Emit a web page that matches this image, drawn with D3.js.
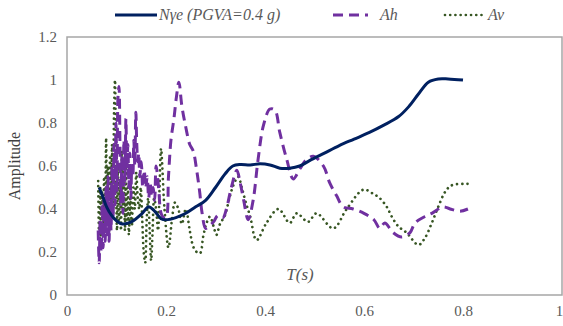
<!DOCTYPE html>
<html>
<head>
<meta charset="utf-8">
<script src="https://cdn.jsdelivr.net/npm/d3@7"></script>
<style>
  body { margin: 0; background: #fff; }
  svg text { font-family: "Liberation Serif", "DejaVu Serif", serif; }
</style>
</head>
<body>
<svg width="563" height="326"></svg>
<script>
// series: period T (s) and amplitude
let nyeT = [0.065, 0.072, 0.08, 0.09, 0.1, 0.112, 0.13, 0.15, 0.165, 0.175, 0.19, 0.2, 0.22, 0.24, 0.26, 0.28, 0.3, 0.32, 0.335, 0.35, 0.37, 0.39, 0.41, 0.43, 0.45, 0.47, 0.49, 0.52, 0.55, 0.58, 0.61, 0.64, 0.67, 0.69, 0.71, 0.73, 0.75, 0.77, 0.8];
let nyeA = [0.5, 0.46, 0.41, 0.37, 0.345, 0.33, 0.34, 0.375, 0.41, 0.395, 0.355, 0.35, 0.36, 0.38, 0.41, 0.44, 0.5, 0.565, 0.6, 0.607, 0.605, 0.61, 0.605, 0.59, 0.59, 0.6, 0.625, 0.66, 0.695, 0.725, 0.755, 0.79, 0.83, 0.875, 0.935, 0.99, 1.005, 1.005, 1.0];

let ahT = [0.063, 0.065, 0.067, 0.069, 0.071, 0.073, 0.075, 0.077, 0.079, 0.081, 0.083, 0.085, 0.087, 0.089, 0.091, 0.093, 0.095, 0.097, 0.099, 0.101, 0.103, 0.105, 0.107, 0.109, 0.111, 0.113, 0.115, 0.117, 0.119, 0.121, 0.123, 0.125, 0.127, 0.129, 0.131, 0.133, 0.135, 0.137, 0.139, 0.141, 0.143, 0.145, 0.147, 0.15, 0.153, 0.156, 0.159, 0.162, 0.165, 0.168, 0.171, 0.174, 0.177, 0.18, 0.185, 0.19, 0.195, 0.2,
  0.205, 0.21, 0.216, 0.221, 0.226, 0.232, 0.24, 0.248, 0.255, 0.262, 0.268, 0.273, 0.28, 0.287, 0.296, 0.305, 0.315, 0.322, 0.332, 0.343, 0.35, 0.357, 0.366, 0.376, 0.386, 0.397, 0.41, 0.42, 0.43, 0.444, 0.457, 0.47, 0.484, 0.498, 0.518, 0.531, 0.545, 0.558, 0.578, 0.6, 0.62, 0.632, 0.642, 0.659, 0.676, 0.693, 0.703, 0.723, 0.737, 0.76, 0.774, 0.794, 0.81];
let ahA = [0.3, 0.15, 0.35, 0.2, 0.42, 0.22, 0.45, 0.25, 0.5, 0.28, 0.55, 0.25, 0.48, 0.3, 0.6, 0.36, 0.7, 0.42, 0.8, 0.48, 0.92, 0.97, 0.7, 0.42, 0.65, 0.38, 0.72, 0.52, 0.82, 0.58, 0.7, 0.5, 0.66, 0.45, 0.6, 0.55, 0.72, 0.6, 0.85, 0.7, 0.62, 0.66, 0.55, 0.62, 0.5, 0.58, 0.5, 0.55, 0.45, 0.52, 0.46, 0.5, 0.44, 0.6, 0.5, 0.38, 0.36, 0.36,
  0.55, 0.72, 0.82, 0.92, 0.99, 0.88, 0.78, 0.7, 0.67, 0.58, 0.48, 0.38, 0.31, 0.32, 0.34, 0.37, 0.36, 0.4, 0.5, 0.58, 0.52, 0.44, 0.35, 0.44, 0.63, 0.79, 0.865, 0.86, 0.755, 0.63, 0.54, 0.585, 0.63, 0.645, 0.6, 0.52, 0.46, 0.41, 0.4, 0.38, 0.35, 0.31, 0.335, 0.29, 0.27, 0.29, 0.335, 0.365, 0.38, 0.41, 0.4, 0.39, 0.4];

let avT = [0.063, 0.065, 0.067, 0.069, 0.071, 0.073, 0.075, 0.077, 0.079, 0.081, 0.083, 0.085, 0.087, 0.089, 0.091, 0.093, 0.095, 0.097, 0.099, 0.101, 0.103, 0.105, 0.107, 0.109, 0.111, 0.113, 0.115, 0.117, 0.119, 0.121, 0.123, 0.125, 0.128, 0.131, 0.134, 0.137, 0.14, 0.143, 0.146, 0.149, 0.152, 0.155, 0.158, 0.161, 0.164, 0.167, 0.17, 0.173, 0.176, 0.18, 0.184, 0.187, 0.19,
  0.197, 0.205, 0.212, 0.218, 0.225, 0.232, 0.24, 0.248, 0.255, 0.262, 0.269, 0.275, 0.282, 0.289, 0.296, 0.302, 0.309, 0.319, 0.328, 0.336, 0.346, 0.353, 0.36, 0.37, 0.383, 0.403, 0.427, 0.45, 0.464, 0.487, 0.504, 0.538, 0.565, 0.599, 0.619, 0.632, 0.646, 0.656, 0.669, 0.686, 0.71, 0.723, 0.737, 0.75, 0.764, 0.777, 0.81];
let avA = [0.53, 0.25, 0.5, 0.22, 0.48, 0.28, 0.55, 0.3, 0.73, 0.35, 0.6, 0.3, 0.65, 0.4, 0.7, 0.35, 0.85, 1.0, 0.55, 0.3, 0.6, 0.35, 0.5, 0.3, 0.67, 0.4, 0.62, 0.3, 0.6, 0.35, 0.5, 0.28, 0.45, 0.32, 0.5, 0.4, 0.57, 0.45, 0.4, 0.5, 0.35, 0.2, 0.15, 0.35, 0.45, 0.3, 0.16, 0.3, 0.45, 0.4, 0.3, 0.5, 0.68,
  0.4, 0.22, 0.35, 0.43, 0.4, 0.33, 0.4, 0.3, 0.225, 0.2, 0.195, 0.27, 0.335, 0.365, 0.32, 0.28, 0.33, 0.37, 0.45, 0.51, 0.55, 0.5, 0.44, 0.365, 0.255, 0.335, 0.4, 0.335, 0.38, 0.34, 0.38, 0.31, 0.4, 0.49, 0.47, 0.45, 0.41, 0.365, 0.32, 0.29, 0.233, 0.265, 0.335, 0.41, 0.48, 0.51, 0.517];

let xTicks = [0, 0.2, 0.4, 0.6, 0.8, 1];
let yTicks = [0, 0.2, 0.4, 0.6, 0.8, 1, 1.2];

let serif = "Liberation Serif, DejaVu Serif, serif";
let margin = { left: 67, right: 1, top: 37, bottom: 31 };
let width = 563, height = 326;

let svg = d3.select("svg");

let x = d3.scaleLinear().domain([0, 1]).range([margin.left, width - margin.right]);
let y = d3.scaleLinear().domain([0, 1.2]).range([height - margin.bottom, margin.top]);

// plot frame
svg.append("rect")
  .attr("x", x(0)).attr("y", y(1.2))
  .attr("width", x(1) - x(0)).attr("height", y(0) - y(1.2))
  .attr("fill", "none")
  .attr("stroke", "#a6a6a6")
  .attr("stroke-width", 1.5);

// axes
let xAxis = svg.append("g")
  .attr("transform", "translate(0," + y(0) + ")")
  .call(d3.axisBottom(x).tickValues(xTicks).tickSize(0).tickPadding(10).tickFormat(d3.format("~g")));
let yAxis = svg.append("g")
  .attr("transform", "translate(" + x(0) + ",0)")
  .call(d3.axisLeft(y).tickValues(yTicks).tickSize(0).tickPadding(10).tickFormat(d3.format("~g")));
[xAxis, yAxis].forEach(g => {
  g.attr("font-family", serif).attr("font-size", 15);
  g.select(".domain").remove();
  g.selectAll("text").attr("fill", "#595959");
});
// last x label sits at the right edge
xAxis.selectAll("text").filter(d => d === 1).attr("dx", "-3");

function zip(ts, vs) {
  return ts.map((t, i) => [t, vs[i]]);
}

let line = d3.line()
  .x(d => x(d[0]))
  .y(d => y(d[1]))
  .curve(d3.curveCatmullRom.alpha(0.5));

svg.append("path")
  .datum(zip(avT, avA))
  .attr("d", line)
  .attr("fill", "none")
  .attr("stroke", "#375623")
  .attr("stroke-width", 2.7)
  .attr("stroke-linecap", "round")
  .attr("stroke-dasharray", "0.01,5.2");

svg.append("path")
  .datum(zip(ahT, ahA))
  .attr("d", line)
  .attr("fill", "none")
  .attr("stroke", "#7030a0")
  .attr("stroke-width", 3)
  .attr("stroke-dasharray", "10,6");

svg.append("path")
  .datum(zip(nyeT, nyeA))
  .attr("d", line)
  .attr("fill", "none")
  .attr("stroke", "#002060")
  .attr("stroke-width", 3);

// axis titles
svg.append("text")
  .attr("transform", "translate(20," + (y(0.6)) + ") rotate(-90)")
  .attr("text-anchor", "middle")
  .attr("fill", "#404040")
  .attr("font-family", serif)
  .attr("font-size", 16)
  .text("Amplitude");

svg.append("text")
  .attr("x", 300).attr("y", 280)
  .attr("text-anchor", "middle")
  .attr("fill", "#595959")
  .attr("font-family", serif)
  .attr("font-size", 17)
  .attr("font-style", "italic")
  .text("T(s)");

// legend
let legend = [
  { label: "Nγe (PGVA=0.4 g)", color: "#002060", dash: null, cap: "butt", w: 3, x1: 115, x2: 157, tx: 159 },
  { label: "Ah", color: "#7030a0", dash: "10,6", cap: "butt", w: 3, x1: 333, x2: 368, tx: 380 },
  { label: "Av", color: "#375623", dash: "0.01,5.2", cap: "round", w: 2.7, x1: 445, x2: 482, tx: 488 }
];
let lg = svg.append("g");
legend.forEach(l => {
  lg.append("line")
    .attr("x1", l.x1).attr("x2", l.x2)
    .attr("y1", 15).attr("y2", 15)
    .attr("stroke", l.color)
    .attr("stroke-width", l.w)
    .attr("stroke-linecap", l.cap)
    .attr("stroke-dasharray", l.dash);
  lg.append("text")
    .attr("x", l.tx).attr("y", 20)
    .attr("fill", "#595959")
    .attr("font-family", serif)
    .attr("font-size", 16)
    .attr("font-style", "italic")
    .text(l.label);
});
</script>
</body>
</html>
